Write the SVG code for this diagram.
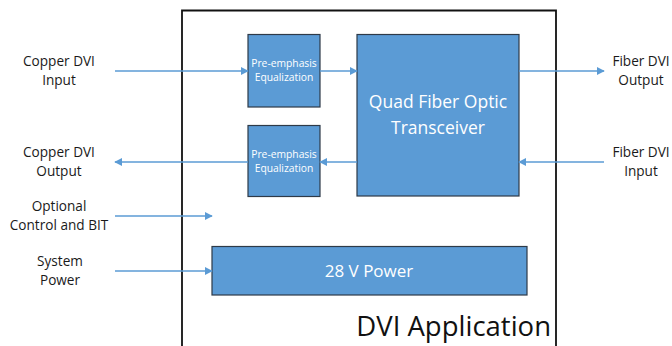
<svg xmlns="http://www.w3.org/2000/svg" width="672" height="346" viewBox="0 0 672 346">
  <style>
    .blk { fill: #5b9bd5; stroke: #2e3a48; stroke-width: 1.2; }
    .lbl { font-family: "Open Sans", "Liberation Sans", sans-serif; font-size: 13.6px; fill: #1a1a1a; text-anchor: middle; }
    .wt { font-family: "Open Sans", "Liberation Sans", sans-serif; fill: #ffffff; text-anchor: middle; }
    .wire { stroke: #5b9bd5; stroke-width: 1.6; fill: none; marker-end: url(#ah); }
  </style>
  <defs>
    <marker id="ah" viewBox="0 0 10 10" refX="9" refY="5" markerWidth="5" markerHeight="5" orient="auto" markerUnits="strokeWidth">
      <path d="M0,0 L10,5 L0,10 z" fill="#5b9bd5"/>
    </marker>
  </defs>

  <rect width="672" height="346" fill="#ffffff"/>

  <!-- enclosing application boundary -->
  <g id="application">
    <path d="M182,350 V10.5 H556 V350" fill="none" stroke="#111111" stroke-width="1.8"/>
    <text x="551" y="336" font-family="Open Sans, Liberation Sans, sans-serif" font-size="27.5" fill="#111111" text-anchor="end">DVI Application</text>
  </g>

  <g id="preemph-in">
    <rect class="blk" x="248" y="34.5" width="72" height="72.5"/>
    <text class="wt" x="284" y="67" font-size="10.3">Pre-emphasis</text>
    <text class="wt" x="284" y="81" font-size="10.3">Equalization</text>
  </g>

  <g id="preemph-out">
    <rect class="blk" x="248" y="125.5" width="72" height="71"/>
    <text class="wt" x="284" y="158" font-size="10.3">Pre-emphasis</text>
    <text class="wt" x="284" y="172" font-size="10.3">Equalization</text>
  </g>

  <g id="transceiver">
    <rect class="blk" x="357" y="34.5" width="162" height="161.5"/>
    <text class="wt" x="438" y="108" font-size="17.5">Quad Fiber Optic</text>
    <text class="wt" x="438" y="134" font-size="17.5">Transceiver</text>
  </g>

  <g id="power">
    <rect class="blk" x="212" y="246.5" width="315" height="48.5"/>
    <text class="wt" x="369" y="277" font-size="17">28 V Power</text>
  </g>

  <g id="labels">
    <text class="lbl" x="59" y="66">Copper DVI</text>
    <text class="lbl" x="59" y="85">Input</text>
    <text class="lbl" x="59" y="157">Copper DVI</text>
    <text class="lbl" x="59" y="176">Output</text>
    <text class="lbl" x="59" y="211">Optional</text>
    <text class="lbl" x="59" y="230">Control and BIT</text>
    <text class="lbl" x="60" y="266">System</text>
    <text class="lbl" x="60" y="285">Power</text>
    <text class="lbl" x="641" y="66">Fiber DVI</text>
    <text class="lbl" x="641" y="85">Output</text>
    <text class="lbl" x="641" y="157">Fiber DVI</text>
    <text class="lbl" x="641" y="176">Input</text>
  </g>

  <g id="connectors">
    <line class="wire" x1="115" y1="71" x2="248" y2="71"/>
    <line class="wire" x1="320" y1="71" x2="357" y2="71"/>
    <line class="wire" x1="519" y1="71" x2="604" y2="71"/>
    <line class="wire" x1="604" y1="162" x2="519" y2="162"/>
    <line class="wire" x1="357" y1="162" x2="320" y2="162"/>
    <line class="wire" x1="248" y1="162" x2="115" y2="162"/>
    <line class="wire" x1="115" y1="216" x2="212" y2="216"/>
    <line class="wire" x1="115" y1="271" x2="212" y2="271"/>
  </g>
</svg>
